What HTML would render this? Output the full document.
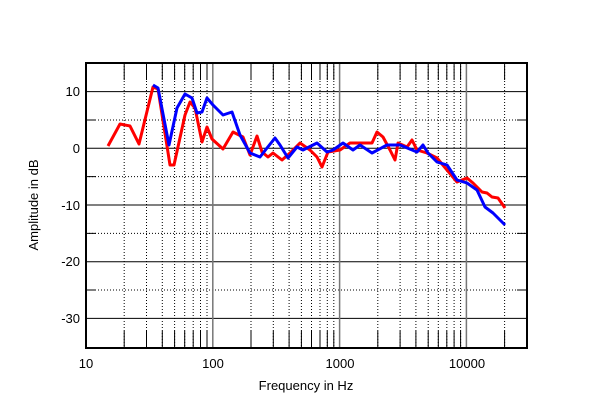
<!DOCTYPE html>
<html><head><style>body{margin:0;background:#fff}</style></head><body>
<svg width="600" height="411" viewBox="0 0 600 411" xmlns="http://www.w3.org/2000/svg" font-family="Liberation Sans, sans-serif" font-size="13">
<!-- dotted horizontal -->
<path d="M86 120H527M86 176.6H527M86 233.4H527M86 290H527" stroke="#000" stroke-width="1" stroke-dasharray="1,2" fill="none"/>
<path d="M86 120H96M517 120H527M86 176.6H96M517 176.6H527M86 233.4H96M517 233.4H527M86 290H96M517 290H527" stroke="#000" fill="none"/>
<!-- solid horizontal -->
<path d="M86 91.6H527M86 148.3H527M86 205H527M86 261.7H527M86 318.4H527" stroke="#000" stroke-width="1" fill="none"/>
<!-- dotted vertical -->
<path d="M124.2 63V348M146.5 63V348M162.3 63V348M174.6 63V348M184.7 63V348M193.2 63V348M200.5 63V348M207 63V348M251 63V348M273.3 63V348M289.1 63V348M301.4 63V348M311.5 63V348M320 63V348M327.3 63V348M333.8 63V348M377.8 63V348M400.1 63V348M415.9 63V348M428.2 63V348M438.3 63V348M446.8 63V348M454.1 63V348M460.6 63V348M504.6 63V348" stroke="#000" stroke-dasharray="1,2" fill="none"/>
<path d="M124.2 63V80M146.5 63V80M162.3 63V80M174.6 63V80M184.7 63V80M193.2 63V80M200.5 63V80M207 63V80M251 63V80M273.3 63V80M289.1 63V80M301.4 63V80M311.5 63V80M320 63V80M327.3 63V80M333.8 63V80M377.8 63V80M400.1 63V80M415.9 63V80M428.2 63V80M438.3 63V80M446.8 63V80M454.1 63V80M460.6 63V80M504.6 63V80" stroke="#000" fill="none"/>
<path d="M124.2 331V348M146.5 331V348M162.3 331V348M174.6 331V348M184.7 331V348M193.2 331V348M200.5 331V348M207 331V348M251 331V348M273.3 331V348M289.1 331V348M301.4 331V348M311.5 331V348M320 331V348M327.3 331V348M333.8 331V348M377.8 331V348M400.1 331V348M415.9 331V348M428.2 331V348M438.3 331V348M446.8 331V348M454.1 331V348M460.6 331V348M504.6 331V348" stroke="#000" fill="none"/>
<!-- decade lines -->
<path d="M212.8 63V348M339.6 63V348M466.4 63V348" stroke="#777" stroke-width="1.5" fill="none"/>
<rect x="86" y="63" width="441" height="285" fill="none" stroke="#000" stroke-width="2"/>
<polyline fill="none" stroke="#f00" stroke-width="3" stroke-linejoin="round" points="108,146 120,124 130,126 139,144 153,87 158,89 170,165 174,165 185,115 190,102 195,108 202,142 207,127 212,139 223,149 233,132 243,137 250,155 257,136 262,152 268,157 273,153 282,160 290,153 300,143 310,150 317,157 322,167 328,152 340,150 350,143 360,143 372,143 377,132 383,137 390,150 395,160 398,143 407,147 412,140 417,150 427,153 437,158 447,170 457,182 467,178 473,183 482,192 487,193 492,197 498,198 505,208"/>
<polyline fill="none" stroke="#00f" stroke-width="3" stroke-linejoin="round" points="153,85 158,88 169,145 177,108 185,94 192,98 197,113 202,112 207,98 213,105 223,115 232,112 240,135 250,153 260,157 267,148 275,138 280,145 288,158 297,147 303,150 317,143 327,152 333,150 343,143 353,150 360,145 372,153 387,145 400,145 417,152 423,145 428,153 437,162 447,165 457,180 467,183 477,190 485,207 493,213 505,225"/>
<g text-anchor="end">
<text x="80" y="96">10</text><text x="80" y="153">0</text><text x="80" y="210">-10</text><text x="80" y="266">-20</text><text x="80" y="323">-30</text>
</g>
<g text-anchor="middle">
<text x="86" y="368">10</text><text x="213" y="368">100</text><text x="340" y="368">1000</text><text x="467" y="368">10000</text>
<text x="306" y="390">Frequency in Hz</text>
<text transform="translate(38,205) rotate(-90)">Amplitude in dB</text>
</g>
</svg>
</body></html>
